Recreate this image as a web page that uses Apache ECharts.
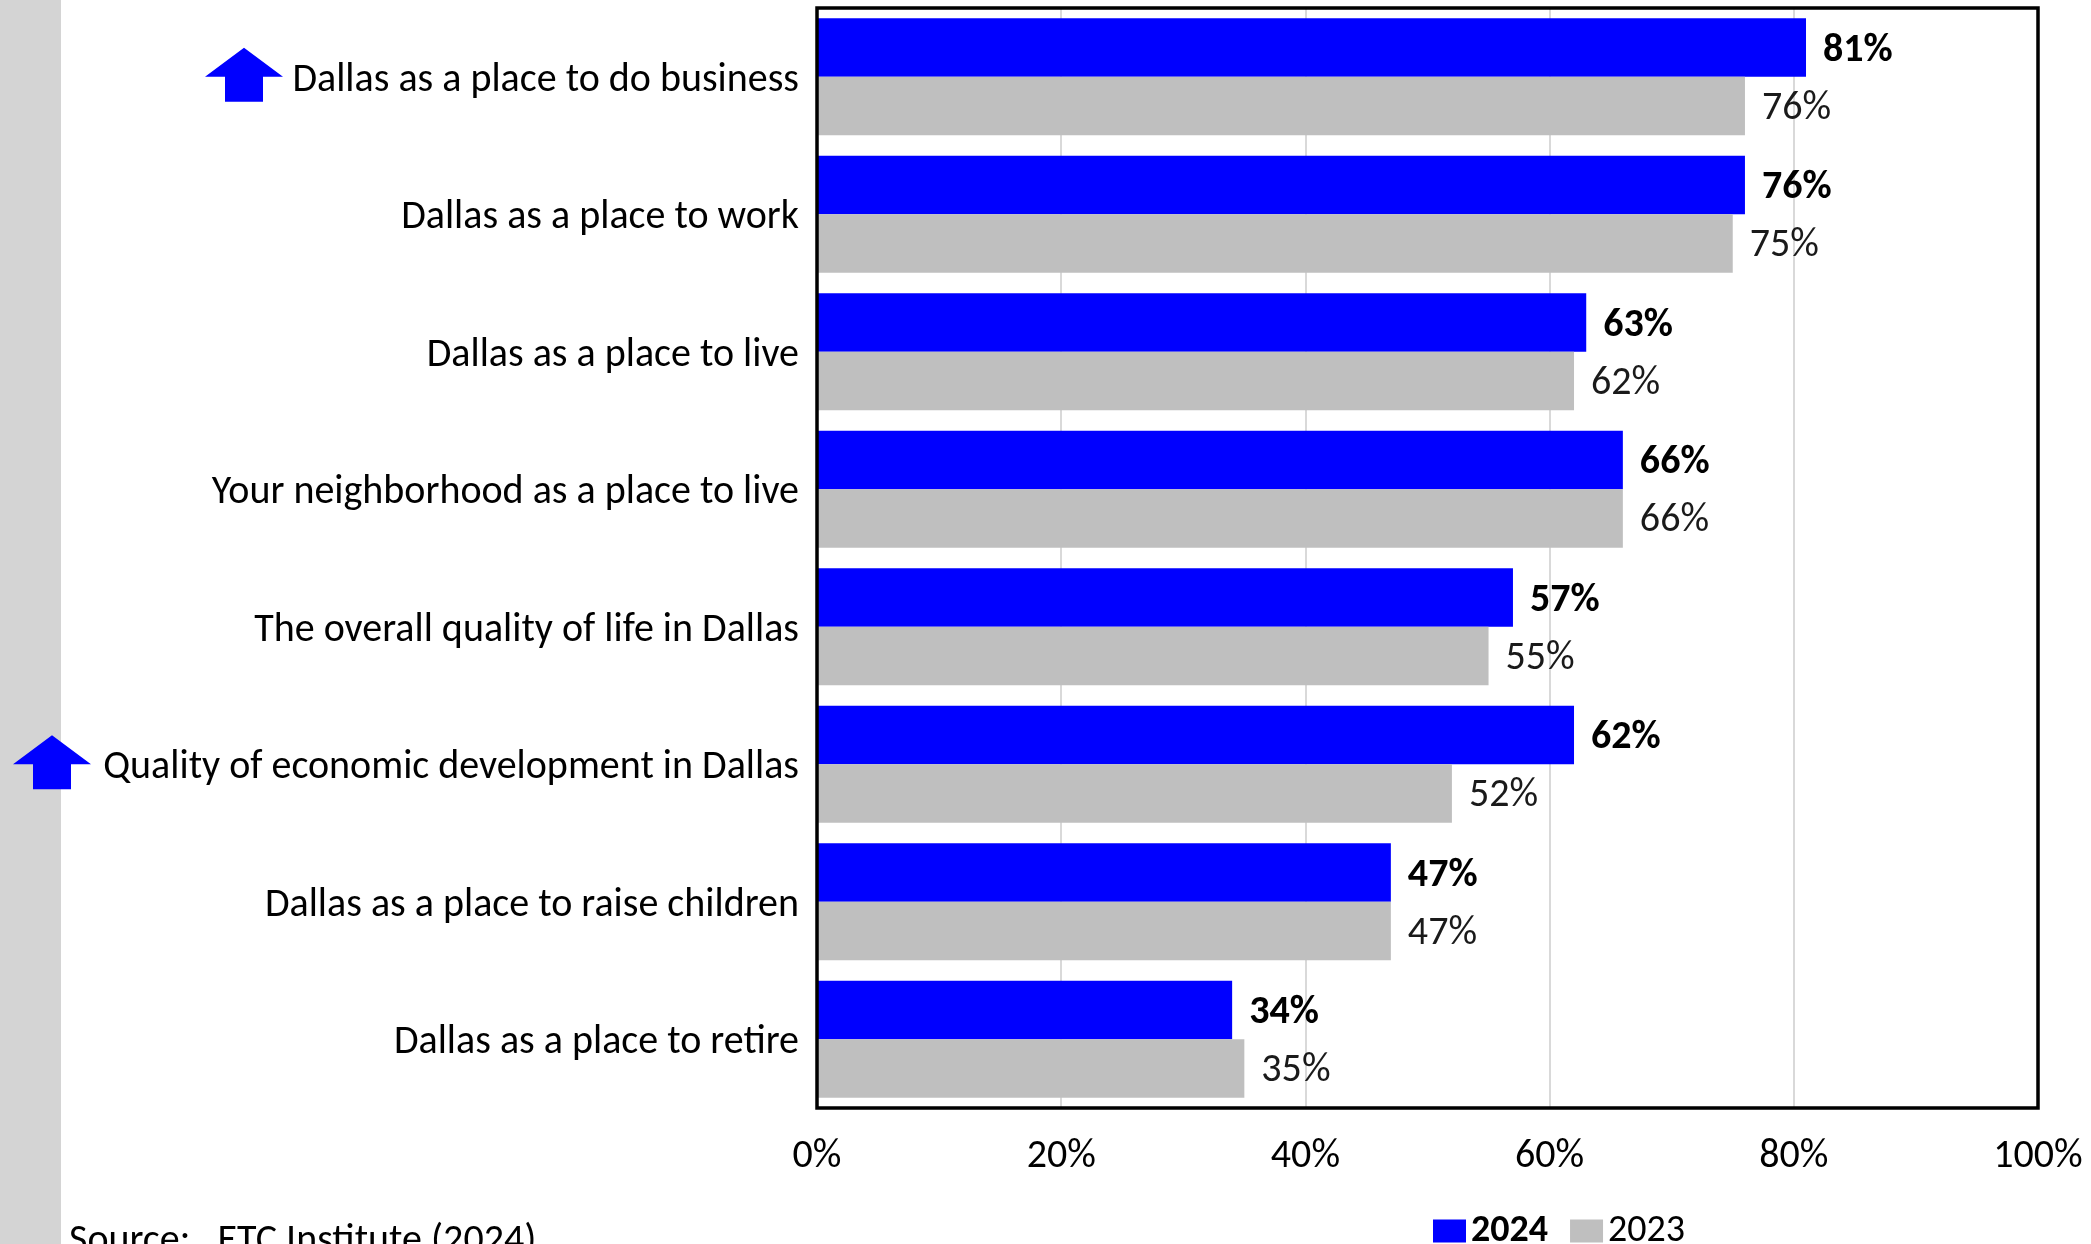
<!DOCTYPE html>
<html>
<head>
<meta charset="utf-8">
<script src="https://cdn.jsdelivr.net/npm/echarts@6/dist/echarts.min.js"></script>
<style>
  html, body { margin: 0; padding: 0; background: #ffffff; }
  #chart { width: 2091px; height: 1244px; }
</style>
</head>
<body>
<div id="chart"></div>
<script>
// Survey items, listed top to bottom
const categories = [
  'Dallas as a place to do business',
  'Dallas as a place to work',
  'Dallas as a place to live',
  'Your neighborhood as a place to live',
  'The overall quality of life in Dallas',
  'Quality of economic development in Dallas',
  'Dallas as a place to raise children',
  'Dallas as a place to retire'
];
// Percent satisfied by survey year
const values2024 = [81, 76, 63, 66, 57, 62, 47, 34];
const values2023 = [76, 75, 62, 66, 55, 52, 47, 35];
// Items that improved significantly since last year get an up arrow
const improvedItems = [
  'Dallas as a place to do business',
  'Quality of economic development in Dallas'
];
const xTicks = [0, 20, 40, 60, 80, 100];

const FONT = 'Carlito, Lato, "Open Sans", sans-serif';
const FS = 40;

// Plot area box
const GRID = { left: 817, top: 8, width: 1221, height: 1100 };

const chart = echarts.init(document.getElementById('chart'), null, { renderer: 'canvas' });

const option = {
  backgroundColor: '#ffffff',
  animation: false,
  textStyle: { fontFamily: FONT },
  grid: {
    left: GRID.left, top: GRID.top, width: GRID.width, height: GRID.height,
    show: false, containLabel: false
  },
  xAxis: {
    type: 'value',
    min: xTicks[0], max: xTicks[xTicks.length - 1], interval: 20,
    axisLine: { show: false },
    axisTick: { show: false },
    splitLine: { show: true, lineStyle: { color: '#d9d9d9', width: 2 } },
    axisLabel: {
      formatter: '{value}%', color: '#000000',
      fontFamily: FONT, fontSize: FS, margin: 29
    }
  },
  yAxis: {
    type: 'category', data: categories, inverse: true,
    axisLine: { show: false },
    axisTick: { show: false },
    axisLabel: {
      color: '#000000', fontFamily: FONT, fontSize: FS, margin: 18,
      formatter: function (v) { return '{t|' + v + '}'; },
      rich: {
        t: { color: '#000000', fontFamily: FONT, fontSize: FS, padding: [8, 0, 0, 0] }
      }
    }
  },
  legend: {
    left: 1428, top: 1207,
    itemWidth: 33, itemHeight: 23, itemGap: 22, itemTextGap: 5,
    icon: 'rect',
    textStyle: { fontFamily: FONT, fontSize: 38, color: '#000000' },
    data: [
      { name: '2024', textStyle: { fontWeight: 'bold' } },
      { name: '2023' }
    ]
  },
  series: [
    {
      name: '2024', type: 'bar', data: values2024,
      barCategoryGap: '15%', barGap: '0%',
      itemStyle: { color: '#0000ff' },
      label: {
        show: true, position: 'right', distance: 17, offset: [0, 3],
        formatter: '{c}%', fontFamily: FONT, fontSize: FS,
        fontWeight: 'bold', color: '#000000'
      }
    },
    {
      name: '2023', type: 'bar', data: values2023,
      barCategoryGap: '15%', barGap: '0%',
      itemStyle: { color: '#bfbfbf' },
      label: {
        show: true, position: 'right', distance: 17, offset: [0, 3],
        formatter: '{c}%', fontFamily: FONT, fontSize: FS,
        color: '#1a1a1a'
      }
    }
  ]
};

chart.setOption(option);

// Up-arrow shape centred on (cx, cy)
function arrowPoints(cx, cy) {
  const headHalf = 39, shaftHalf = 19, top = -28, base = 1, bottom = 26;
  return [
    [cx, cy + top],
    [cx + headHalf, cy + base],
    [cx + shaftHalf, cy + base],
    [cx + shaftHalf, cy + bottom],
    [cx - shaftHalf, cy + bottom],
    [cx - shaftHalf, cy + base],
    [cx - headHalf, cy + base]
  ];
}

// Arrow x positions sit just left of each improved item's label
const arrowX = { 'Dallas as a place to do business': 244, 'Quality of economic development in Dallas': 52 };

const graphics = [
  // light side strip along the left edge
  { type: 'rect', left: 0, top: 0, z: -10, shape: { width: 61, height: 1244 }, style: { fill: '#d4d4d4' } },
  // plot frame drawn over the bars
  {
    type: 'rect', z: 50, silent: true,
    shape: { x: GRID.left, y: GRID.top, width: GRID.width, height: GRID.height },
    style: { fill: null, stroke: '#000000', lineWidth: 3.5 }
  },
  {
    type: 'text', left: 69, top: 1222,
    style: { text: 'Source:   ETC Institute (2024)', fontFamily: FONT, fontSize: FS, fill: '#000000' }
  }
];
improvedItems.forEach(function (name) {
  const cy = chart.convertToPixel({ yAxisIndex: 0 }, name) - 1;
  graphics.push({
    type: 'polygon', z: 10,
    shape: { points: arrowPoints(arrowX[name], cy) },
    style: { fill: '#0000ff' }
  });
});
chart.setOption({ graphic: graphics });
</script>
</body>
</html>
